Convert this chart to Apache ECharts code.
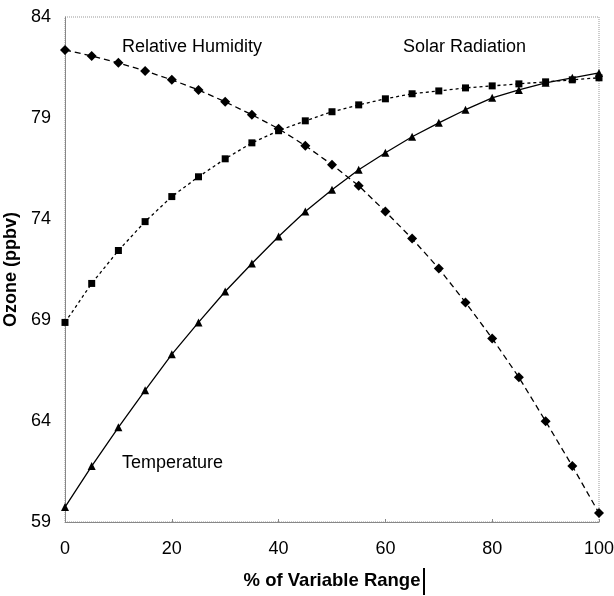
<!DOCTYPE html>
<html>
<head>
<meta charset="utf-8">
<script src="https://cdn.jsdelivr.net/npm/echarts@6/dist/echarts.min.js"></script>
<style>
html,body{margin:0;padding:0;background:#fff;}
#chart{width:614px;height:596px;}
</style>
</head>
<body>
<div id="chart"></div>
<script>
// Percent of each variable's range (x axis)
const pctRange = [0,5,10,15,20,25,30,35,40,45,50,55,60,65,70,75,80,85,90,95,100];
// Modelled ozone (ppbv) response to each variable
const relativeHumidity = [82.37,82.07,81.73,81.33,80.89,80.39,79.80,79.16,78.47,77.63,76.69,75.65,74.37,73.03,71.55,69.87,68.09,66.16,63.99,61.77,59.44];
const solarRadiation = [68.88,70.81,72.44,73.87,75.11,76.09,76.98,77.77,78.37,78.86,79.31,79.65,79.95,80.20,80.34,80.49,80.59,80.69,80.79,80.89,80.99];
const temperature = [59.74,61.77,63.69,65.52,67.30,68.88,70.41,71.80,73.13,74.37,75.45,76.44,77.28,78.07,78.76,79.41,80.00,80.39,80.74,80.99,81.23];
const seriesNames = ['Relative Humidity','Solar Radiation','Temperature'];

const pairs = arr => pctRange.map((x,i)=>[x, arr[i]]);
const font = 'Liberation Sans, Arial, sans-serif';

const chart = echarts.init(document.getElementById('chart'), null, {renderer:'canvas'});
chart.setOption({
  animation:false,
  backgroundColor:'#fff',
  grid:{left:65,right:15,top:17,bottom:74,containLabel:false,outerBoundsMode:'none',
        show:true,borderColor:'#999',borderWidth:1,borderType:'dotted'},
  xAxis:{
    type:'value',min:0,max:100,interval:20,
    name:'% of Variable Range',nameLocation:'middle',nameGap:49,nameMoveOverlap:false,
    nameTextStyle:{fontFamily:font,fontSize:18.5,fontWeight:'bold',color:'#000'},
    axisLine:{show:true,lineStyle:{color:'#888',width:1}},
    axisTick:{show:true,length:3,inside:true,lineStyle:{color:'#888'}},
    axisLabel:{fontFamily:font,fontSize:18,color:'#000',margin:18},
    splitLine:{show:false}
  },
  yAxis:{
    type:'value',min:59,max:84,interval:5,
    name:'Ozone (ppbv)',nameLocation:'middle',nameGap:45,nameRotate:90,nameMoveOverlap:false,
    nameTextStyle:{fontFamily:font,fontSize:18,fontWeight:'bold',color:'#000'},
    axisLine:{show:true,lineStyle:{color:'#888',width:1}},
    axisTick:{show:false},
    axisLabel:{fontFamily:font,fontSize:18,color:'#000',margin:14},
    splitLine:{show:false}
  },
  series:[
    {name:seriesNames[0],type:'line',data:pairs(relativeHumidity),
     symbol:'diamond',symbolSize:[10,10],itemStyle:{color:'#000'},
     lineStyle:{color:'#000',width:1.3,type:[6,4]}},
    {name:seriesNames[1],type:'line',data:pairs(solarRadiation),
     symbol:'rect',symbolSize:7,itemStyle:{color:'#000'},
     lineStyle:{color:'#000',width:1.3,type:[3,3]}},
    {name:seriesNames[2],type:'line',data:pairs(temperature),
     symbol:'triangle',symbolSize:8,itemStyle:{color:'#000'},
     lineStyle:{color:'#000',width:1.3,type:'solid'}}
  ],
  graphic:[
    {type:'text',left:122,top:38,style:{text:seriesNames[0],fontFamily:font,fontSize:18,fill:'#000'}},
    {type:'text',left:403,top:38,style:{text:seriesNames[1],fontFamily:font,fontSize:18,fill:'#000'}},
    {type:'text',left:122,top:454,style:{text:seriesNames[2],fontFamily:font,fontSize:18,fill:'#000'}},
    {type:'rect',left:423,top:568,shape:{width:2,height:27},style:{fill:'#000'}}
  ]
});
</script>
</body>
</html>
